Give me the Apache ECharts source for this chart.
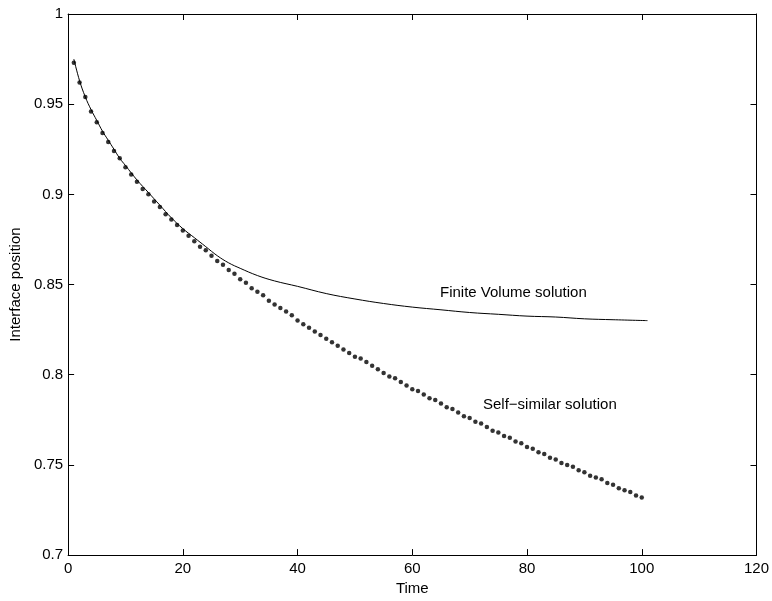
<!DOCTYPE html>
<html>
<head>
<meta charset="utf-8">
<script src="https://cdn.jsdelivr.net/npm/echarts@6/dist/echarts.min.js"></script>
<style>
  html, body { margin: 0; padding: 0; background: #fff; }
  #main { width: 772px; height: 601px; }
</style>
</head>
<body>
<div id="main"></div>
<script>
// finite volume solution (solid line)
var fvTime = [1, 2, 3, 4, 5, 6, 7, 8, 9, 10, 12, 14, 16, 18, 20, 22, 24, 26, 28, 30,
  33, 36, 40, 45, 50, 55, 60, 65, 70, 75, 80, 85, 90, 95, 101];
var fvPos = [0.975, 0.963, 0.954, 0.947, 0.941, 0.935, 0.930, 0.925, 0.920, 0.916,
  0.908, 0.901, 0.894, 0.887, 0.881, 0.876, 0.871, 0.866, 0.862, 0.859,
  0.855, 0.852, 0.849, 0.845, 0.842, 0.8395, 0.8375, 0.836, 0.8345, 0.8335,
  0.8325, 0.832, 0.831, 0.8305, 0.830];

// self-similar solution (dots, one per time unit, t = 1..100)
var ssPos = [
  0.973, 0.962, 0.954, 0.946, 0.940, 0.934, 0.929, 0.924, 0.920, 0.915,
  0.911, 0.907, 0.903, 0.900, 0.896, 0.893, 0.889, 0.886, 0.883, 0.880,
  0.877, 0.874, 0.871, 0.869, 0.866, 0.863, 0.861, 0.858, 0.856, 0.853,
  0.851, 0.848, 0.846, 0.844, 0.841, 0.839, 0.837, 0.835, 0.833, 0.830,
  0.828, 0.826, 0.824, 0.822, 0.820, 0.818, 0.816, 0.814, 0.812, 0.810,
  0.809, 0.807, 0.805, 0.803, 0.801, 0.799, 0.798, 0.796, 0.794, 0.792,
  0.791, 0.789, 0.787, 0.786, 0.784, 0.782, 0.781, 0.779, 0.777, 0.776,
  0.774, 0.773, 0.771, 0.769, 0.768, 0.766, 0.765, 0.763, 0.762, 0.760,
  0.759, 0.757, 0.756, 0.754, 0.753, 0.751, 0.750, 0.749, 0.747, 0.746,
  0.744, 0.743, 0.742, 0.740, 0.739, 0.737, 0.736, 0.735, 0.733, 0.732
];

var fvData = fvTime.map(function (t, i) { return [t, fvPos[i]]; });
var ssData = ssPos.map(function (v, i) { return [i + 1, v]; });

var font = 'Liberation Sans, Arial, Helvetica, sans-serif';

function axisBase(extra) {
  return Object.assign({
    type: 'value',
    axisLine: { show: true, onZero: false, lineStyle: { color: '#000', width: 1 } },
    axisTick: { show: true, inside: true, length: 6, lineStyle: { color: '#000' } },
    splitLine: { show: false },
    axisLabel: { color: '#000', fontFamily: font, fontSize: 15 }
  }, extra);
}

var chart = echarts.init(document.getElementById('main'));
chart.setOption({
  animation: false,
  backgroundColor: '#fff',
  grid: { left: 63, right: 13, top: 14, bottom: 38 },
  xAxis: [
    axisBase({ min: 0, max: 120, interval: 20, position: 'bottom',
      name: 'Time', nameLocation: 'middle', nameGap: 16,
      nameTextStyle: { color: '#000', fontFamily: font, fontSize: 15 },
      axisLabel: { color: '#000', fontFamily: font, fontSize: 15, margin: 6 } }),
    axisBase({ min: 0, max: 120, interval: 20, position: 'top',
      axisLabel: { show: false } })
  ],
  yAxis: [
    axisBase({ min: 0.7, max: 1, interval: 0.05, position: 'left',
      name: 'Interface position', nameLocation: 'middle', nameGap: 40,
      nameTextStyle: { color: '#000', fontFamily: font, fontSize: 15 },
      axisLabel: { color: '#000', fontFamily: font, fontSize: 15, margin: 5 } }),
    axisBase({ min: 0.7, max: 1, interval: 0.05, position: 'right',
      axisLabel: { show: false } })
  ],
  graphic: [
    { type: 'text', left: 440, top: 285,
      style: { text: 'Finite Volume solution', fill: '#000', font: '15px ' + font } },
    { type: 'text', left: 483, top: 397,
      style: { text: 'Self\u2212similar solution', fill: '#000', font: '15px ' + font } }
  ],
  series: [
    {
      type: 'line', data: fvData, smooth: 0.4, showSymbol: false,
      lineStyle: { color: '#000', width: 1 }
    },
    {
      type: 'scatter', data: ssData, symbol: 'circle', symbolSize: 4.5,
      itemStyle: { color: '#000' }
    }
  ]
});
</script>
</body>
</html>
